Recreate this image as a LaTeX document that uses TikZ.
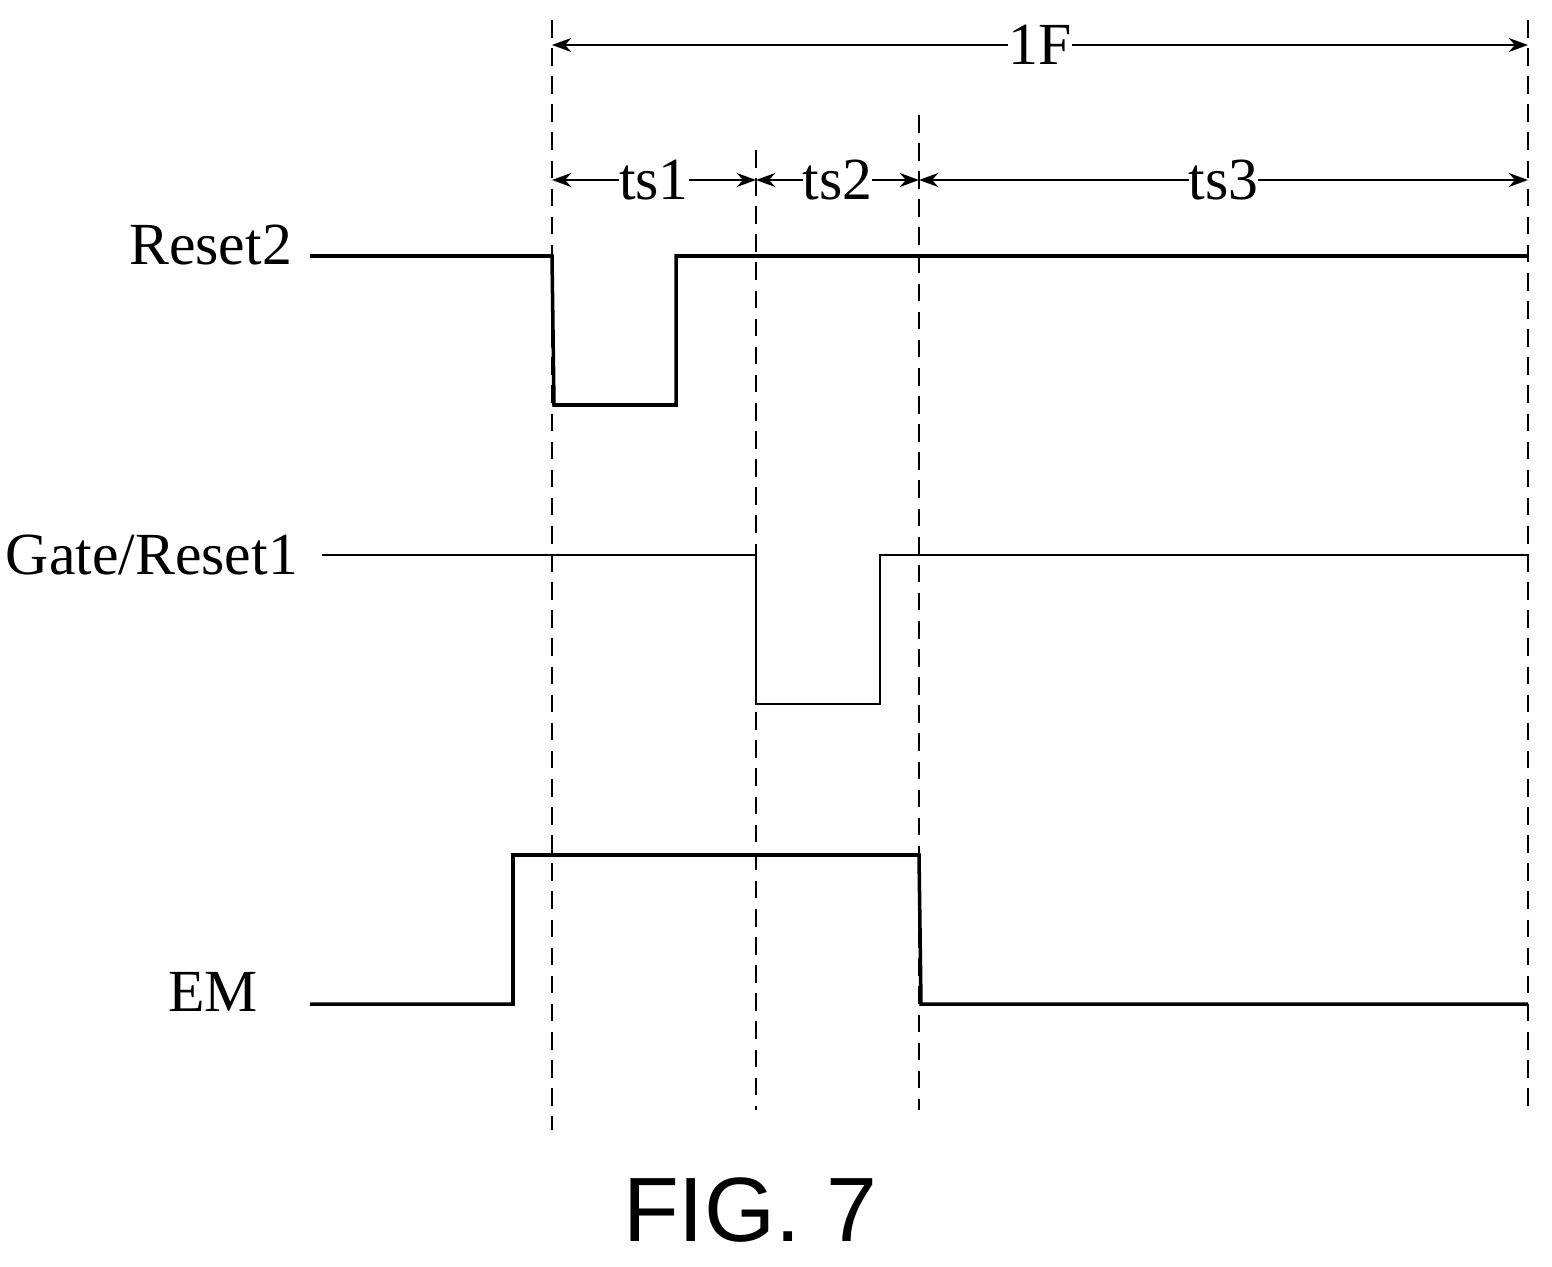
\documentclass[tikz,border=0pt]{standalone}
\usepackage{fontspec}
\setmainfont{Liberation Serif}
\newfontfamily\figfont{Liberation Sans}
\usetikzlibrary{positioning, calc, arrows.meta}
\tikzset{sig/.style={line width=2pt}}
\tikzset{guide/.style={line width=1.3pt, dash pattern=on 10pt off 6pt}}
\tikzset{span/.style={line width=1.2pt, {Stealth[length=11pt,width=8pt]}-{Stealth[length=11pt,width=8pt]}}}
\tikzset{lbl/.style={font=\fontsize{34}{34}\selectfont, inner sep=1pt}}
\tikzset{spanlbl/.style={lbl, fill=white, inner sep=0pt}}
\begin{document}
\begin{tikzpicture}[x=0.02cm, y=-0.02cm]
          \useasboundingbox (0,0) rectangle (1552,1267);

          % time marks
          \coordinate (ta) at (552,45);
          \coordinate (tb) at (756,180);
          \coordinate (tc) at (919,180);
          \coordinate (td) at (1528,45);

          \draw[guide] (552,20) -- (552,1130);
          \draw[guide] (756,150) -- (756,1110);
          \draw[guide] (919,115) -- (919,1110);
          \draw[guide] (1528,20) -- (1528,1110);

          % spans
          \draw[span] (ta) -- (td);
          \node[spanlbl] (l1f) at ($(ta)!0.5!(td)$) {1F};

          \coordinate (sa) at (552,180);
          \coordinate (sd) at (1528,180);
          \draw[span] (sa) -- (tb);
          \draw[span] (tb) -- (tc);
          \draw[span] (tc) -- (sd);
          \node[spanlbl] (lts1) at ($(sa)!0.5!(tb)$) {ts1};
          \node[spanlbl] (lts2) at ($(tb)!0.5!(tc)$) {ts2};
          \node[spanlbl] (lts3) at ($(tc)!0.5!(sd)$) {ts3};

          % signals
          \node[lbl, anchor=east] (reset2) at (294,245) {Reset2};
          \draw[sig] (310,256) -- (552,256) -- (554,405) -- (676,405)
            -- (676,256) -- (1528,256);

          \node[lbl, anchor=east] (gate) at (300,555) {Gate/Reset1};
          \draw[sig, line width=1.5pt] (322,555) -- (756,555) -- (756,704)
            -- (880,704) -- (880,555) -- (1528,555);

          \node[lbl] (em) at (213,992) {EM};
          \draw[sig] (310,1004) -- (513,1004) -- (513,855) -- (919,855)
            -- (921,1004) -- (1528,1004);

          \node[font=\figfont\fontsize{52}{52}\selectfont] (fig) at (750,1210) {FIG. 7};
        \end{tikzpicture}
\end{document}
